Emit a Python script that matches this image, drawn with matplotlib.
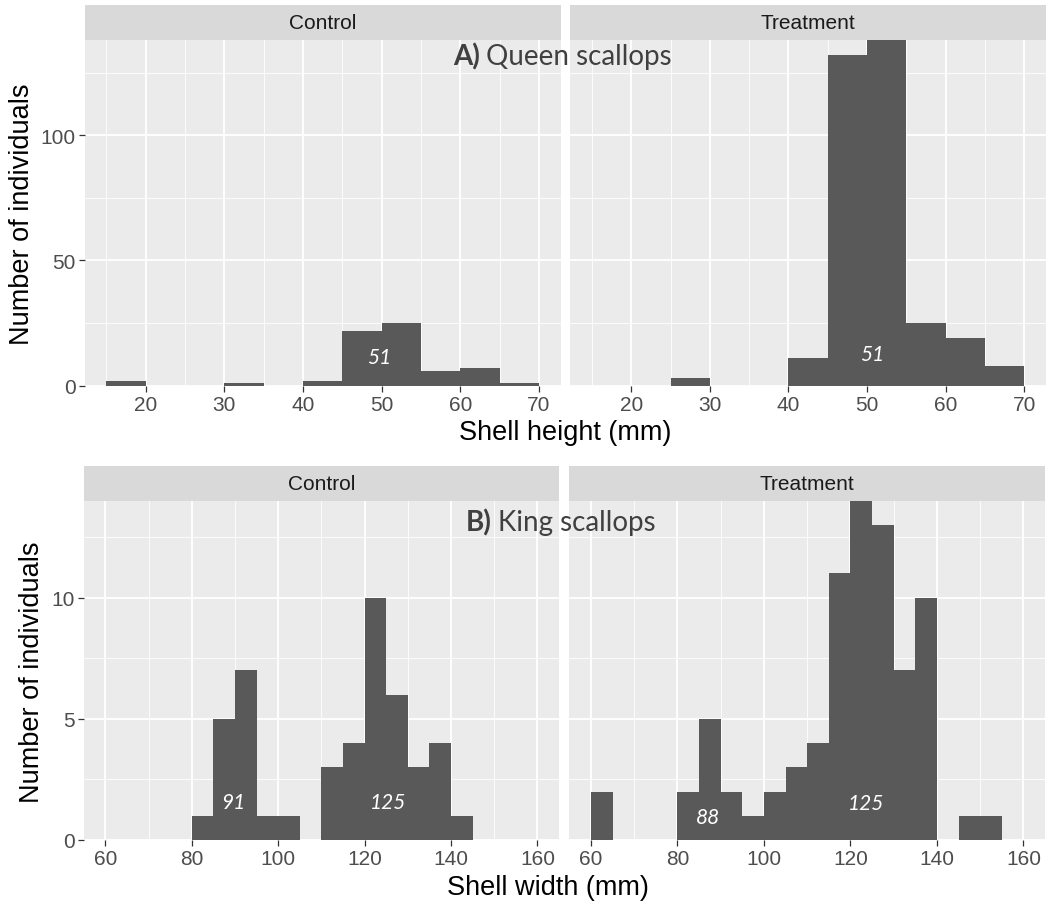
import numpy as np
import matplotlib
matplotlib.use('Agg')
import matplotlib.pyplot as plt

# histogram counts (5 mm bins)
queen_edges = np.arange(15, 75, 5)
queen_control = [2, 0, 0, 1, 0, 2, 22, 25, 6, 7, 1]
queen_treatment = [0, 0, 3, 0, 0, 11, 132, 138, 25, 19, 8]

king_edges = np.arange(60, 165, 5)
king_control = [0, 0, 0, 0, 1, 5, 7, 1, 1, 0, 3, 4, 10, 6, 3, 4, 1, 0, 0, 0]
king_treatment = [2, 0, 0, 0, 2, 5, 2, 1, 2, 3, 4, 11, 14, 13, 7, 10, 0, 1, 1, 0]

groups = ['Control', 'Treatment']
queen_labels = ['51', '51']
king_labels = [['91', '125'], ['88', '125']]

W, H = 1046, 904
plt.rcParams['font.family'] = ['Liberation Sans', 'DejaVu Sans']
fig = plt.figure(figsize=(W / 100, H / 100), dpi=100)


def rect(x0, y0, x1, y1):
    return [x0 / W, 1 - y1 / H, (x1 - x0) / W, (y1 - y0) / H]


def panel(box, strip_top, title, edges, counts, xlim, ylim, xmaj, xmin, ymaj, ymin, left):
    x0, y0, x1, y1 = box
    ax = fig.add_axes(rect(x0, y0, x1, y1))
    ax.set_facecolor('#EBEBEB')
    for s in ax.spines.values():
        s.set_visible(False)
    ax.bar(edges[:-1], counts, width=5, align='edge', color='#595959', linewidth=0, zorder=2)
    ax.set_xlim(*xlim); ax.set_ylim(*ylim)
    ax.set_xticks(xmaj); ax.set_xticks(xmin, minor=True)
    ax.set_yticks(ymaj); ax.set_yticks(ymin, minor=True)
    ax.grid(which='major', color='white', lw=1.3, zorder=0)
    ax.grid(which='minor', color='white', lw=0.6, zorder=0)
    ax.set_axisbelow(True)
    ax.tick_params(which='major', length=4.5, width=0.9, color='#333333', labelsize=15,
                   labelcolor='#4D4D4D', pad=2)
    ax.tick_params(which='minor', length=0)
    if not left:
        ax.tick_params(axis='y', which='both', length=0, labelleft=False)
    st = fig.add_axes(rect(x0, strip_top, x1, y0))
    st.set_facecolor('#D9D9D9')
    st.set_xticks([]); st.set_yticks([])
    for s in st.spines.values():
        s.set_visible(False)
    st.text(0.5, 0.5, title, ha='center', va='center', fontsize=15, color='#1A1A1A',
            transform=st.transAxes)
    return ax


lab_font = dict(family=['Lato', 'DejaVu Sans'], style='italic', color='white', fontsize=15,
                ha='center', va='center', zorder=3)

# A) Queen scallops
top_boxes = [(84.6, 41, 560.7, 386.7), (570.3, 41, 1046, 386.7)]
top_pos = [(49.7, 11.3), (50.7, 12.6)]
for i, (g, counts) in enumerate(zip(groups, [queen_control, queen_treatment])):
    ax = panel(top_boxes[i], 6, g, queen_edges, counts, (12.25, 72.75), (0, 138),
               np.arange(20, 71, 10), np.arange(15, 70, 10), [0, 50, 100], [25, 75, 125], i == 0)
    ax.text(*top_pos[i], queen_labels[i], **lab_font)

# B) King scallops
bot_boxes = [(83.9, 501.7, 559, 841), (569.3, 501.7, 1045, 841)]
bot_pos = [[(89.6, 1.56), (125.5, 1.56)], [(87.0, 0.96), (123.6, 1.53)]]
for i, (g, counts) in enumerate(zip(groups, [king_control, king_treatment])):
    ax = panel(bot_boxes[i], 466.7, g, king_edges, counts, (55, 165), (0, 14),
               np.arange(60, 161, 20), np.arange(70, 160, 20), [0, 5, 10], [2.5, 7.5, 12.5], i == 0)
    for (px, py), t in zip(bot_pos[i], king_labels[i]):
        ax.text(px, py, t, **lab_font)

# axis titles
fig.text(565 / W, 1 - 433 / H, 'Shell height (mm)', ha='center', va='center', fontsize=19.5)
fig.text(548 / W, 1 - 888 / H, 'Shell width (mm)', ha='center', va='center', fontsize=19.5)
fig.text(22 / W, 1 - 214 / H, 'Number of individuals', rotation=90, ha='center', va='center', fontsize=19.5)
fig.text(32 / W, 1 - 672 / H, 'Number of individuals', rotation=90, ha='center', va='center', fontsize=19.5)

# panel tags, bold letter + regular name
renderer = fig.canvas.get_renderer()
for x_left, y_mid, tag, name in [(453, 56.7, 'A)', 'Queen scallops'), (466, 523.3, 'B)', 'King scallops')]:
    t = fig.text(x_left / W, 1 - y_mid / H, tag, ha='left', va='center', fontsize=20,
                 fontweight='bold', color='#404040', family=['Lato', 'DejaVu Sans'])
    bb = t.get_window_extent(renderer)
    fig.text((bb.x1 + 6) / W, 1 - y_mid / H, name, ha='left', va='center', fontsize=20,
             color='#404040', family=['Lato', 'DejaVu Sans'])

fig.savefig('out.png', dpi=100)
